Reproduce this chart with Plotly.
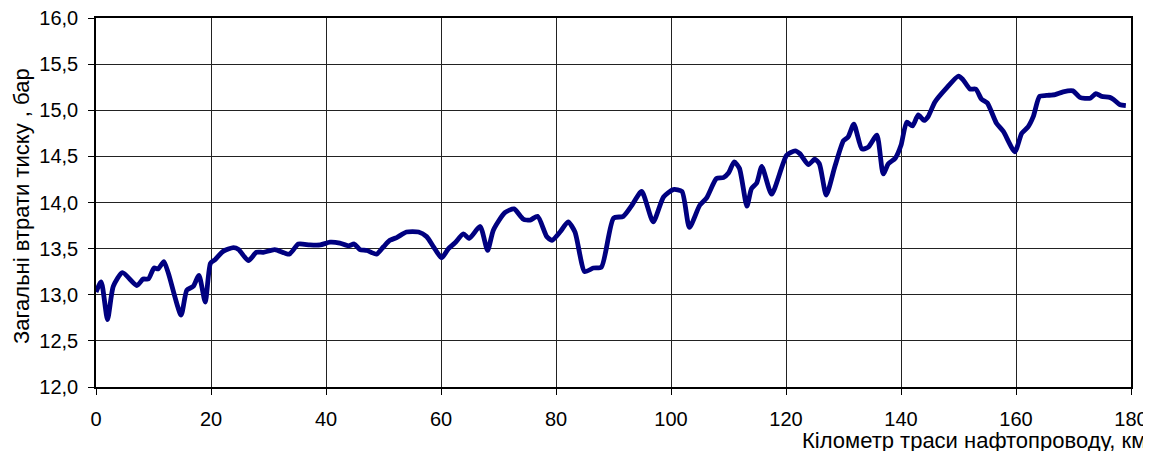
import plotly.graph_objects as go

km = [0.0, 0.9, 2.0, 3.0, 4.6, 7.1, 8.2, 9.1, 10.1, 10.8, 11.8, 12.6, 14.8, 15.8, 16.9, 17.9, 19.0, 19.9,
      20.7, 22.1, 23.9, 24.8, 26.5, 27.9, 29.1, 31.1, 33.6, 35.2, 37.2, 39.0, 40.7, 42.4, 43.9, 44.9,
      45.9, 47.1, 48.8, 50.0, 51.1, 52.3, 54.0, 56.1, 57.5, 58.7, 60.1, 61.3, 62.4, 63.9, 64.9, 66.8,
      68.1, 69.1, 71.1, 72.7, 74.3, 75.5, 76.8, 78.4, 79.3, 80.7, 82.1, 83.3, 85.0, 86.5, 87.9, 90.0,
      91.7, 93.2, 94.9, 96.9, 98.7, 100.4, 101.9, 103.2, 105.0, 106.2, 107.9, 109.1, 110.0, 111.0,
      111.9, 113.2, 114.0, 114.9, 115.8, 117.5, 120.1, 121.6, 122.4, 123.9, 125.0, 125.8, 127.0,
      128.5, 130.0, 130.8, 131.8, 133.2, 134.3, 135.8, 136.9, 137.8, 139.0, 140.0, 141.0, 142.0,
      143.0, 144.0, 144.7, 145.9, 147.9, 150.0, 150.8, 152.0, 153.0, 154.0, 155.0, 156.6, 157.8,
      159.8, 161.0, 162.1, 163.0, 164.1, 165.3, 166.8, 168.2, 169.9, 171.1, 172.9, 173.9, 174.9,
      176.3, 176.9, 178.1, 179.1]
pressure_loss = [13.03, 13.14, 12.73, 13.09, 13.24, 13.10, 13.17, 13.17, 13.29, 13.28, 13.36, 13.23, 12.78,
                 13.05, 13.09, 13.21, 12.92, 13.34, 13.38, 13.47, 13.51, 13.49, 13.37, 13.46, 13.46, 13.49,
                 13.44, 13.55, 13.54, 13.54, 13.57, 13.56, 13.53, 13.55, 13.49, 13.48, 13.44, 13.52, 13.59,
                 13.62, 13.68, 13.68, 13.63, 13.52, 13.40, 13.50, 13.56, 13.66, 13.61, 13.74, 13.48, 13.70,
                 13.89, 13.93, 13.82, 13.81, 13.85, 13.63, 13.59, 13.68, 13.79, 13.68, 13.25, 13.29, 13.30,
                 13.83, 13.85, 13.97, 14.12, 13.79, 14.06, 14.14, 14.12, 13.73, 13.97, 14.05, 14.26, 14.27,
                 14.32, 14.44, 14.37, 13.96, 14.15, 14.21, 14.39, 14.09, 14.51, 14.56, 14.53, 14.41, 14.47,
                 14.42, 14.08, 14.39, 14.67, 14.71, 14.85, 14.58, 14.60, 14.73, 14.31, 14.42, 14.48, 14.62,
                 14.87, 14.83, 14.95, 14.89, 14.93, 15.09, 15.24, 15.37, 15.33, 15.23, 15.23, 15.12, 15.08,
                 14.86, 14.77, 14.55, 14.75, 14.82, 14.93, 15.15, 15.16, 15.17, 15.20, 15.21, 15.14, 15.13,
                 15.18, 15.15, 15.14, 15.12, 15.06, 15.05]

x_ticks = [0, 20, 40, 60, 80, 100, 120, 140, 160, 180]
y_ticks = [12.0, 12.5, 13.0, 13.5, 14.0, 14.5, 15.0, 15.5, 16.0]

x_title = "Кілометр траси нафтопроводу, км"
y_title = "Загальні втрати тиску , бар"

FONT = "Liberation Sans, Arial, sans-serif"
# the page body has an 8px margin, so the figure is shifted by 8px
OFF = 8
W, H = 1151 - OFF, 451 - OFF
L, T = 96 - OFF, 18 - OFF
R = W - (1131 - OFF)
B = H - (387 - OFF)
PW, PH = W - L - R, H - T - B


def px_x(x):
    return (x - OFF - L) / PW


def px_y(y):
    return (T + PH - (y - OFF)) / PH


fig = go.Figure()
fig.add_trace(go.Scatter(
    x=km, y=pressure_loss, mode="lines",
    line=dict(color="#000080", width=4.8, shape="spline", smoothing=0.6),
    showlegend=False, hoverinfo="x+y",
))

fig.update_layout(
    width=W, height=H,
    margin=dict(l=L, r=R, t=T, b=B, autoexpand=False),
    paper_bgcolor="white", plot_bgcolor="white",
    separators=", ",
    font=dict(family=FONT, size=20, color="black"),
    xaxis=dict(
        range=[0, 180], tickvals=x_ticks, ticktext=[str(v) for v in x_ticks],
        showgrid=True, gridcolor="#222", gridwidth=1,
        showline=True, linecolor="black", linewidth=1.5, mirror=True,
        ticks="outside", ticklen=6, tickcolor="black",
        ticklabelstandoff=7, zeroline=False, automargin=False,
        ticklabeloverflow="allow",
        tickfont=dict(family=FONT, size=20),
    ),
    yaxis=dict(
        range=[12, 16], tickvals=y_ticks, tickformat=".1f",
        showgrid=True, gridcolor="#222", gridwidth=1,
        showline=True, linecolor="black", linewidth=1.5, mirror=True,
        ticks="outside", ticklen=6, tickcolor="black",
        ticklabelstandoff=6, zeroline=False, automargin=False,
        ticklabeloverflow="allow",
        tickfont=dict(family=FONT, size=20),
    ),
    annotations=[
        dict(text=x_title, xref="paper", yref="paper",
             x=px_x(1147), y=px_y(440), borderpad=0,
             xanchor="right", yanchor="middle", showarrow=False,
             font=dict(family=FONT, size=22, color="black")),
        dict(text=y_title, xref="paper", yref="paper",
             x=px_x(21), y=px_y(206), textangle=-90, borderpad=0,
             xanchor="center", yanchor="middle", showarrow=False,
             font=dict(family=FONT, size=22, color="black")),
    ],
)

fig.write_html("out.html")
